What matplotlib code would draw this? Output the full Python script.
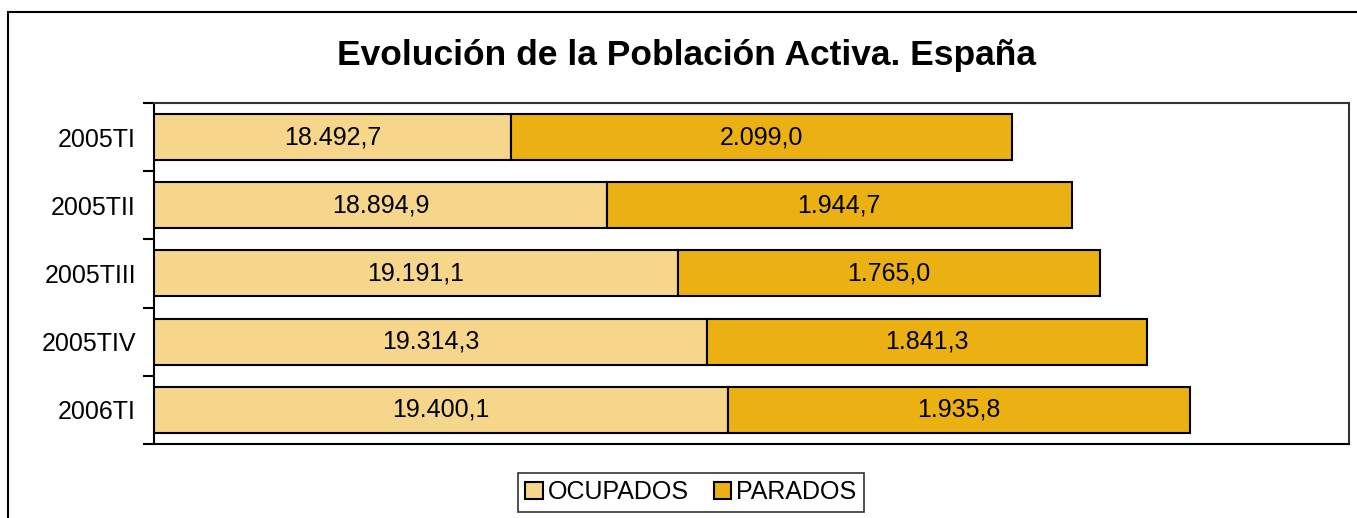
import numpy as np
import matplotlib.pyplot as plt
from matplotlib.patches import Rectangle

# datos de la EPA (miles de personas)
periodos = ['2005TI', '2005TII', '2005TIII', '2005TIV', '2006TI']
ocupados = [18492.7, 18894.9, 19191.1, 19314.3, 19400.1]
parados = [2099.0, 1944.7, 1765.0, 1841.3, 1935.8]

col_ocup = '#F5D68A'
col_par = '#EBB012'

plt.rcParams['font.family'] = ['Liberation Sans', 'DejaVu Sans']

def fmt_es(v):
    s = '{:,.1f}'.format(v)
    return s.replace(',', '#').replace('.', ',').replace('#', '.')

fig = plt.figure(figsize=(13.57, 5.18), dpi=100)
ax = fig.add_axes([0.1135, 0.1429, 0.8806, 0.6583])

y = np.arange(len(periodos))
b1 = ax.barh(y, ocupados, height=0.675, color=col_ocup, edgecolor='black', linewidth=1.5, label='OCUPADOS')
b2 = ax.barh(y, parados, left=ocupados, height=0.675, color=col_par, edgecolor='black', linewidth=1.5, label='PARADOS')

ax.bar_label(b1, labels=[fmt_es(v) for v in ocupados], label_type='center', fontsize=18)
ax.bar_label(b2, labels=[fmt_es(v) for v in parados], label_type='center', fontsize=18)

ax.set_xlim(17000, 22000)
ax.set_ylim(len(periodos) - 0.5, -0.5)

# etiquetas en el centro, marcas entre categorias
ax.set_yticks(y)
ax.set_yticklabels(periodos, fontsize=18)
ax.tick_params(axis='y', which='major', length=0, pad=13)
ax.set_yticks(np.arange(len(periodos) + 1) - 0.5, minor=True)
ax.tick_params(axis='y', which='minor', length=8, width=1.5, direction='out')
ax.set_xticks([])

for s in ax.spines.values():
    s.set_linewidth(1.5)
ax.spines['top'].set_color('#333333')
ax.spines['right'].set_color('#333333')

fig.text(0.506, 0.892, 'Evolución de la Población Activa. España', ha='center', va='center',
         fontsize=25.5, fontweight='bold')

leg = fig.legend(handles=[b1, b2], loc='center', bbox_to_anchor=(0.509, 0.05), ncol=2,
                 fontsize=18, frameon=True, fancybox=False, edgecolor='black',
                 handlelength=0.7, handleheight=0.7, handletextpad=0.2, columnspacing=1.0,
                 borderpad=0.3)
leg.get_frame().set_linewidth(1.2)

# borde exterior del grafico
fig.patches.append(Rectangle((8 / 1357, -0.1), 1.2, 1 - 12 / 518 + 0.1, transform=fig.transFigure,
                             fill=False, edgecolor='black', linewidth=1.5))

fig.savefig('out.png', dpi=100)
